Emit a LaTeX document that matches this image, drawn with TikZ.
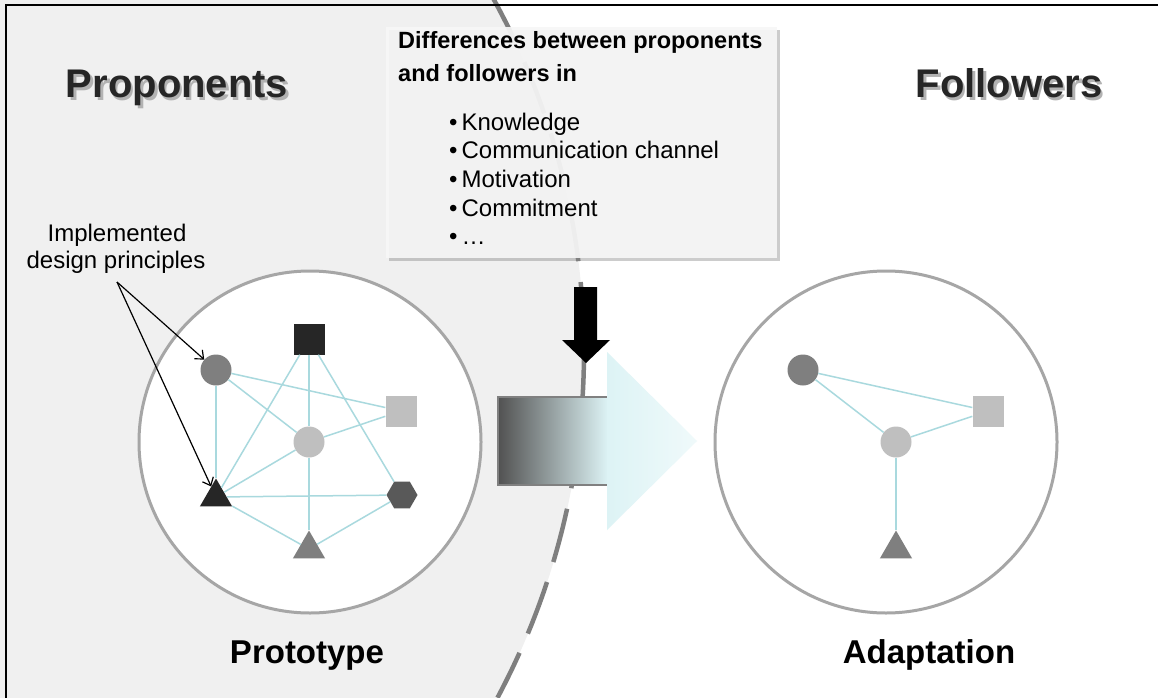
\documentclass[tikz,border=0pt]{standalone}
\usepackage{fontspec}
\setmainfont{Liberation Sans}
\usetikzlibrary{shapes.geometric,shadows,arrows.meta}

\definecolor{bggray}{HTML}{F0F0F0}
\definecolor{bordgray}{HTML}{7F7F7F}
\definecolor{rimgray}{HTML}{A6A6A6}
\definecolor{linkcyan}{HTML}{A9D9DE}
\definecolor{shdark}{HTML}{262626}
\definecolor{shmid}{HTML}{7F7F7F}
\definecolor{shlight}{HTML}{BFBFBF}
\definecolor{shhex}{HTML}{595959}
\definecolor{arrcyan}{HTML}{DDF3F5}

\begin{document}
\begin{tikzpicture}[x=1pt,y=-1pt,
  link/.style={draw=linkcyan,line width=1.5pt},
  dot/.style={circle,inner sep=0pt,minimum size=31pt},
  sq/.style={rectangle,inner sep=0pt,minimum size=31pt},
  tri/.style={regular polygon,regular polygon sides=3,inner sep=0pt,minimum size=37pt},
  hexa/.style={regular polygon,regular polygon sides=6,inner sep=0pt,minimum size=31pt},
  rim/.style={circle,draw=rimgray,line width=3pt,fill=white,minimum size=342pt},
  bigtitle/.style={anchor=base,inner sep=0pt,font=\fontsize{40}{48}\selectfont\bfseries},
  boxtext/.style={anchor=base west,inner sep=0pt,font=\fontsize{24}{28}\selectfont},
  >={Straight Barb[length=7pt,width=12pt]}]
\useasboundingbox (0,0) rectangle (1158,698);

% proponents side / followers side
\begin{scope}
\clip (0,0) rectangle (1158,698);
\fill [white] (0,0) rectangle (1158,698);
\fill [bggray] (-150,352) circle (734);
\draw [bordgray,line width=4.5pt,dash pattern=on 55pt off 21pt,dash phase=5pt]
  (-150,352) ++(28.1:734) arc (28.1:-29:734);
\end{scope}
\draw [line width=2.5pt] (6,698) -- (6,5) -- (1158,5);

\node (propsh) at (179.5,100.5) [bigtitle,text=black!30] {Proponents};
\node (prop) at (177,98) [bigtitle,text=shdark] {Proponents};
\node (follsh) at (1011.5,100.5) [bigtitle,text=black!30] {Followers};
\node (foll) at (1009,98) [bigtitle,text=shdark] {Followers};

% differences box
\node (diffbox) at (581.5,142.5) [rectangle,fill=gray!6,fill opacity=0.92,minimum width=391pt,minimum height=231pt,
  drop shadow={shadow xshift=3pt,shadow yshift=-3pt,opacity=0.4}] {};
\node (diff1) at (398,49) [boxtext,font=\fontsize{23.5}{28}\selectfont\bfseries] {Differences between proponents};
\node (diff2) at (398,82) [boxtext,font=\fontsize{23.5}{28}\selectfont\bfseries] {and followers in};
\foreach \txt [count=\i] in {Knowledge,Communication channel,Motivation,Commitment,…}
  \node (item\i) at (449,{101.3+28.7*\i}) [boxtext] {\textbullet\,\txt};

% prototype
\node (proto) at (310,442) [rim] {};
\node (pdc) at (216,370) [dot,fill=shmid] {};
\node (pbs) at (309,339) [sq,fill=shdark] {};
\node (pls) at (401,411) [sq,fill=shlight] {};
\node (pcc) at (309,442) [dot,fill=shlight] {};
\node (pbt) at (216,497) [tri,fill=shdark] {};
\node (phx) at (402,495) [hexa,fill=shhex] {};
\node (pgt) at (309,549) [tri,fill=shmid] {};
\draw [link] (pdc) -- (pbt);
\draw [link] (pdc) -- (pcc);
\draw [link] (pdc) -- (pls);
\draw [link] (pbs) -- (pbt);
\draw [link] (pbs) -- (pcc);
\draw [link] (pbs) -- (phx);
\draw [link] (pls) -- (pcc);
\draw [link] (pbt) -- (pcc);
\draw [link] (pbt) -- (phx);
\draw [link] (pbt) -- (pgt);
\draw [link] (pcc) -- (pgt);
\draw [link] (phx) -- (pgt);
\node (protolbl) at (307,663) [anchor=base,font=\fontsize{33}{40}\selectfont\bfseries] {Prototype};

% adaptation
\node (adapt) at (886,442) [rim] {};
\node (adc) at (803,370) [dot,fill=shmid] {};
\node (als) at (988,411) [sq,fill=shlight] {};
\node (acc) at (896,442) [dot,fill=shlight] {};
\node (agt) at (896,549) [tri,fill=shmid] {};
\draw [link] (adc) -- (als);
\draw [link] (adc) -- (acc);
\draw [link] (als) -- (acc);
\draw [link] (acc) -- (agt);
\node (adaptlbl) at (929,663) [anchor=base,font=\fontsize{33}{40}\selectfont\bfseries] {Adaptation};

% transfer arrows
\shade [left color=black!68,middle color=gray!45!arrcyan,right color=arrcyan] (498,397) rectangle (608,485);
\draw [gray,line width=1.5pt] (608,397) -- (498,397) -- (498,485) -- (608,485);
\shade [left color=arrcyan,right color=arrcyan!45!white] (607,352) -- (697,441) -- (607,530) -- cycle;
\fill [black] (574,287) -- (597,287) -- (597,340) -- (610,340) -- (586,363) -- (562,340) -- (574,340) -- cycle;

% implemented design principles
\node (impl1) at (117,241) [anchor=base,inner sep=0pt,font=\fontsize{24}{28}\selectfont] {Implemented};
\node (impl2) at (116,268) [anchor=base,inner sep=0pt,font=\fontsize{24}{28}\selectfont] {design principles};
\coordinate (implpt) at (117,282);
\draw [->,line width=1.2pt] (implpt) -- (pdc);
\draw [->,line width=1.2pt] (implpt) -- (pbt);

\end{tikzpicture}
\end{document}
